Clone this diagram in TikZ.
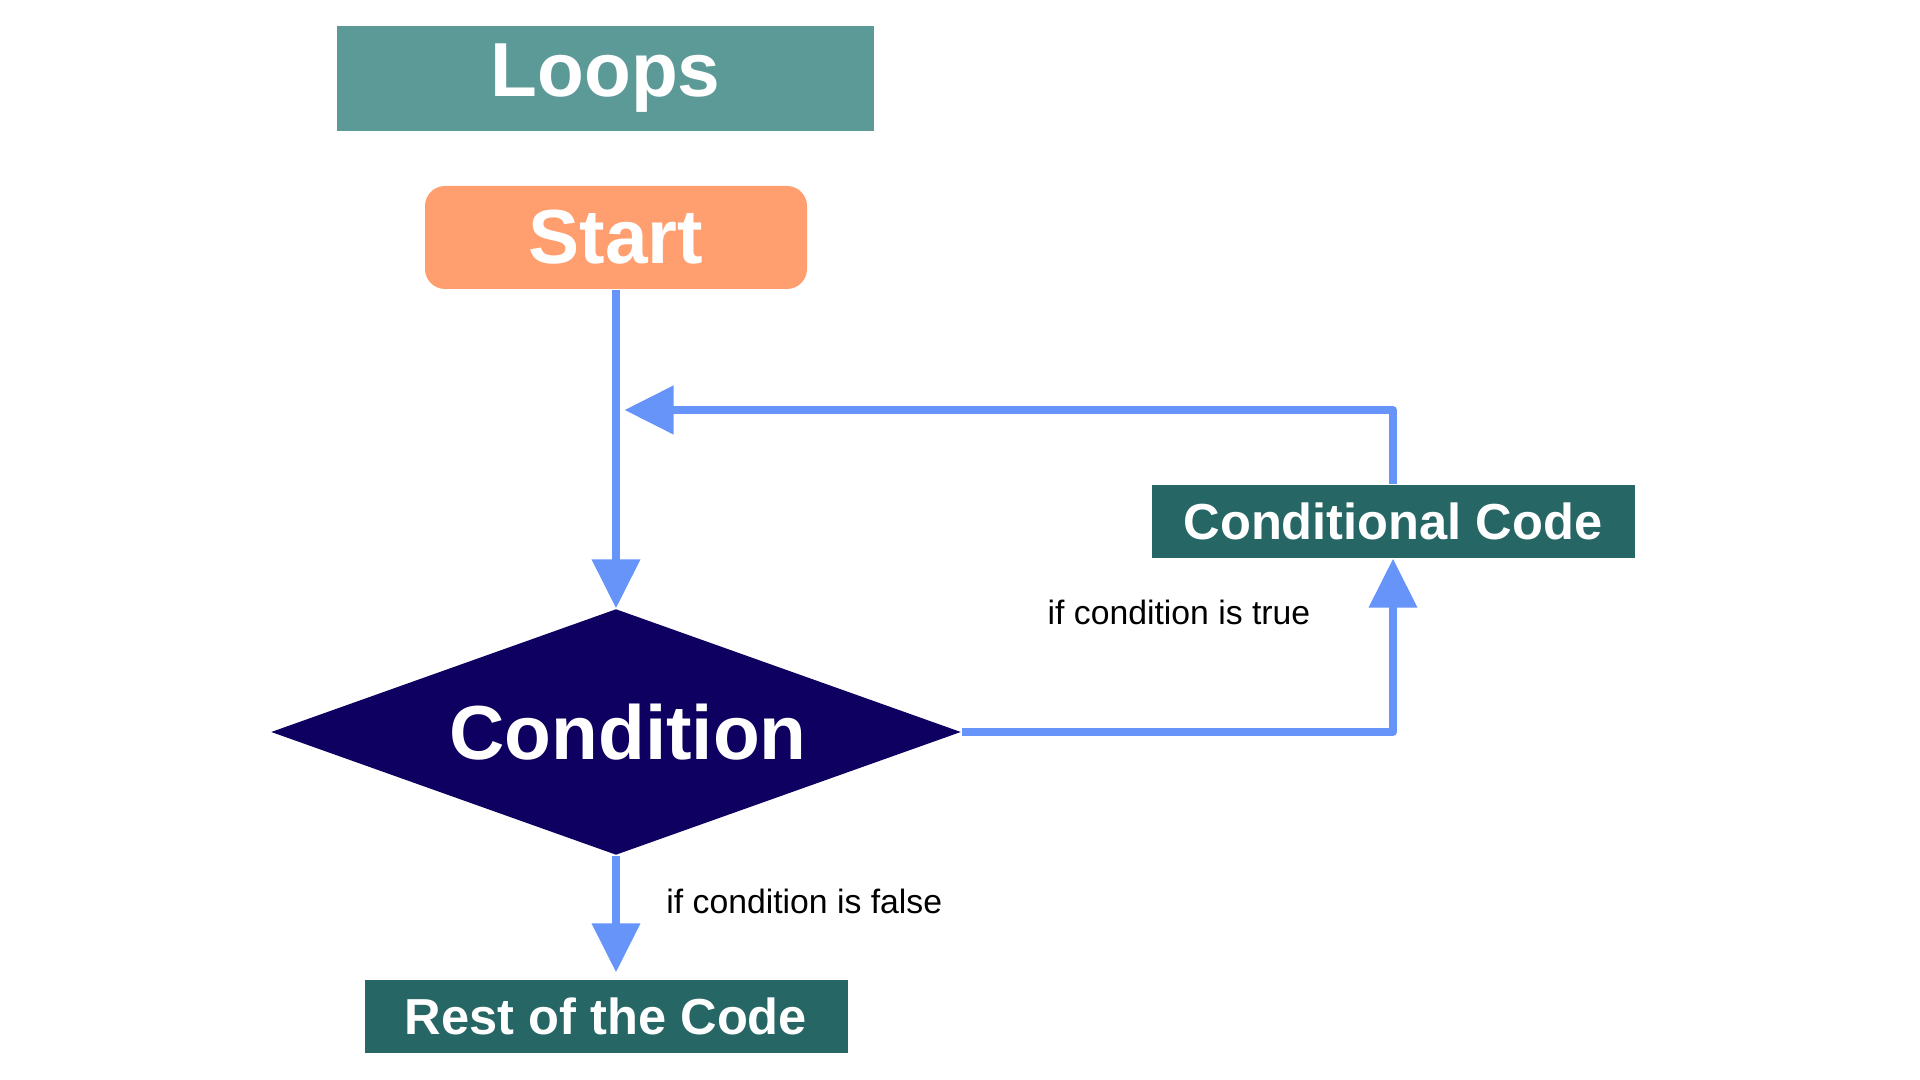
\documentclass[tikz,border=0pt]{standalone}
\usepackage{fontspec}
\setmainfont{Liberation Sans}
\usetikzlibrary{shapes.geometric,arrows.meta}

\definecolor{titleteal}{HTML}{5C9A98}
\definecolor{startorange}{HTML}{FF9F6F}
\definecolor{codeteal}{HTML}{266665}
\definecolor{condnavy}{HTML}{0D0060}
\definecolor{flowblue}{HTML}{6794F9}

\begin{document}
\begin{tikzpicture}[
        bigtext/.style={text=white, font=\fontsize{21.8}{25}\selectfont\bfseries},
        codebox/.style={rectangle, fill=codeteal, inner sep=0pt, minimum width=4.83cm, minimum height=0.73cm,
            text=white, font=\fontsize{14.4}{17}\selectfont\bfseries},
        flow/.style={line width=0.075cm, color=flowblue, line join=round,
            -{Triangle[length=0.49cm, width=0.47cm]}},
        note/.style={font=\fontsize{9.6}{11.5}\selectfont, text=black}
    ]
        \useasboundingbox (0, 0) rectangle (19.2, 10.8);

        % boxes
        \node[bigtext, fill=titleteal, inner sep=0pt, minimum width=5.37cm, minimum height=1.05cm] (title) at (6.055, 10.015) {Loops};
        \node[bigtext, fill=startorange, rounded corners=0.2cm, inner sep=0pt, minimum width=3.82cm, minimum height=1.03cm] (start) at (6.16, 8.425) {Start};
        \node[bigtext, diamond, aspect=2.8, fill=condnavy, inner sep=0pt, minimum width=6.9cm, minimum height=2.46cm] (cond) at (6.16, 3.48) {\hspace*{0.24cm}Condition};
        \node[codebox] (cc) at (13.93, 5.585) {Conditional Code};
        \node[codebox] (rest) at (6.06, 0.635) {Rest of the Code};

        % point where the loop comes back
        \coordinate (merge) at (6.245, 6.70);

        % arrows
        \draw[flow] (start.south) -- (cond.north);
        \draw[flow] (cond.east) -| (cc.south);
        \draw[flow] (cc.north) |- (merge);
        \draw[flow, shorten >=0.07cm] (cond.south) -- (cond.south |- rest.north);

        % Include labels for branches
        \node[note] (truelabel) at (11.79, 4.68) {if condition is true};
        \node[note, anchor=west] (falselabel) at (6.54, 1.79) {if condition is false};
    \end{tikzpicture}
\end{document}
